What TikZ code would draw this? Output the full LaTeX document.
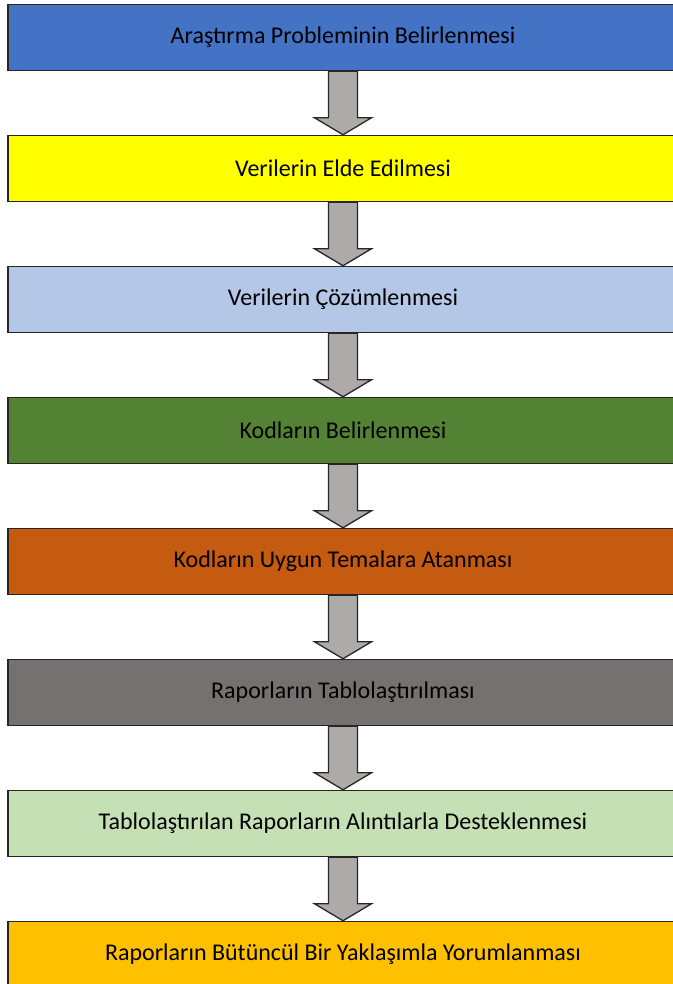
\documentclass[tikz,border=0pt]{standalone}
\usepackage{fontspec}
\setmainfont{Carlito}
\usetikzlibrary{positioning, calc}

\definecolor{stepblue}{HTML}{4472C4}
\definecolor{stepyellow}{HTML}{FFFF00}
\definecolor{steplightblue}{HTML}{B4C7E7}
\definecolor{stepgreen}{HTML}{548235}
\definecolor{steporange}{HTML}{C55A11}
\definecolor{stepgray}{HTML}{767171}
\definecolor{steplightgreen}{HTML}{C5E0B4}
\definecolor{stepgold}{HTML}{FFC000}
\definecolor{arrowgray}{HTML}{AEAAAA}

\tikzset{
  stepbox/.style={draw=black!85, line width=1.5pt, minimum width=670pt,
    minimum height=66pt, inner sep=0pt, font=\fontsize{24}{28}\selectfont},
  flowarrow/.style={draw=black!85, line width=1.3pt, fill=arrowgray, line join=miter}
}

% block arrow from the bottom of #1 to the top of #2
\newcommand{\blockarrow}[2]{%
  \draw[flowarrow] ($(#1.south)+(-14.5pt,0)$) -- ($(#2.north)+(-14.5pt,17pt)$)
    -- ($(#2.north)+(-28.5pt,17pt)$) -- (#2.north) -- ($(#2.north)+(28.5pt,17pt)$)
    -- ($(#2.north)+(14.5pt,17pt)$) -- ($(#1.south)+(14.5pt,0)$) -- cycle;}

\begin{document}
\begin{tikzpicture}[x=1pt, y=1pt, node distance=131pt, on grid]
  \useasboundingbox (0,0) rectangle (672,-984);

  \node[stepbox, fill=stepblue] (s1) at (343,-37.5) {Araştırma Probleminin Belirlenmesi};
  \node[stepbox, fill=stepyellow] (s2) [below=of s1] {Verilerin Elde Edilmesi};
  \node[stepbox, fill=steplightblue] (s3) [below=of s2] {Verilerin Çözümlenmesi};
  \node[stepbox, fill=stepgreen] (s4) [below=of s3] {Kodların Belirlenmesi};
  \node[stepbox, fill=steporange] (s5) [below=of s4] {Kodların Uygun Temalara Atanması};
  \node[stepbox, fill=stepgray] (s6) [below=of s5] {Raporların Tablolaştırılması};
  \node[stepbox, fill=steplightgreen] (s7) [below=of s6] {Tablolaştırılan Raporların Alıntılarla Desteklenmesi};
  \node[stepbox, fill=stepgold] (s8) [below=of s7] {Raporların Bütüncül Bir Yaklaşımla Yorumlanması};

  \blockarrow{s1}{s2}
  \blockarrow{s2}{s3}
  \blockarrow{s3}{s4}
  \blockarrow{s4}{s5}
  \blockarrow{s5}{s6}
  \blockarrow{s6}{s7}
  \blockarrow{s7}{s8}
\end{tikzpicture}
\end{document}
